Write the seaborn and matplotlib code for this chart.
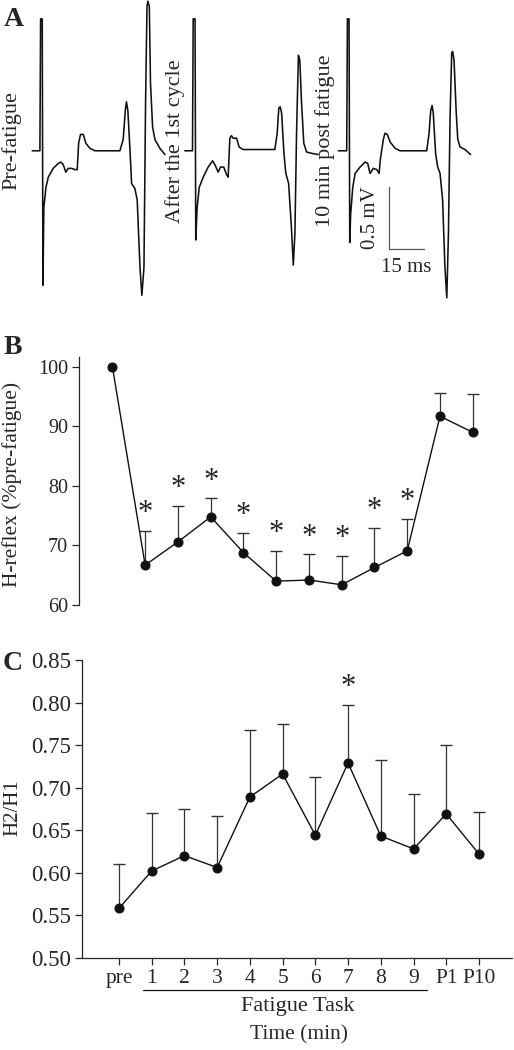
import numpy as np
import pandas as pd
import matplotlib
matplotlib.use("Agg")
import matplotlib.pyplot as plt
import seaborn as sns

# ── data ───────────────────────────────────────────────────────
# panel A: EMG sweeps, time (ms) from the stimulus, voltage (mV) from baseline
pre_t = [-3.3, 0, 0.3, 1.0, 1.3, 1.7, 2.6, 3.6, 5.7, 7.9, 9.0, 10.0, 11.1, 12.1,
         13.6, 15.0, 16.0, 16.6, 17.4, 18.6, 19.7, 21.4, 23.6, 34.3, 35.7, 36.6,
         37.1, 37.7, 38.6, 39.3, 40.7, 41.7, 42.9, 43.7, 44.6, 45.3, 45.9, 46.3,
         46.9, 47.4, 48.3, 49.3, 51.4, 53.6]
pre_v = [0, 0, 1.05, 1.05, -1.07, -0.45, -0.29, -0.21, -0.14, -0.10, -0.09, -0.11,
         -0.17, -0.14, -0.14, -0.15, -0.15, 0.06, 0.13, 0.13, 0.06, 0.02, 0, 0,
         0.09, 0.32, 0.39, 0.32, 0.01, -0.26, -0.30, -0.39, -0.93, -1.15, -0.93,
         0.40, 1.15, 1.19, 1.15, 0.54, 0.19, 0.09, 0.02, -0.03]

cyc_t = [-3.3, 0, 0.3, 1.1, 1.4, 2.0, 2.9, 4.6, 6.7, 8.6, 9.6, 11.0, 12.0, 13.4,
         14.6, 15.3, 16.0, 16.7, 17.4, 18.9, 20.0, 21.7, 35.3, 36.3, 37.0, 37.6,
         38.2, 39.2, 40.0, 41.2, 42.4, 43.2, 43.9, 44.6, 45.4, 46.0, 46.7, 47.7,
         48.9, 51.0, 53.9]
cyc_v = [0, 0, 1.05, 1.05, -0.71, -0.45, -0.29, -0.21, -0.13, -0.08, -0.11, -0.17,
         -0.13, -0.13, -0.19, -0.21, 0.10, 0.12, 0.10, 0.10, 0.03, 0.01, 0.01, 0.14,
         0.34, 0.35, 0.30, -0.02, -0.18, -0.26, -0.61, -0.91, -0.66, 0.14, 0.76,
         0.72, 0.40, 0.06, -0.01, -0.02, -0.03]

post_t = [-3.6, 0, 0.3, 1.0, 1.3, 1.7, 2.6, 3.6, 5.7, 7.9, 9.0, 10.0, 11.4, 12.9,
          13.9, 14.4, 15.7, 16.4, 17.4, 18.6, 20.7, 22.9, 34.3, 35.3, 36.0, 36.6,
          37.1, 38.1, 39.0, 40.0, 41.1, 42.1, 42.9, 43.6, 44.3, 45.0, 45.4, 46.0,
          46.9, 47.6, 48.6, 50.7, 53.1]
post_v = [0, 0, 1.05, 1.05, -0.73, -0.50, -0.29, -0.18, -0.13, -0.09, -0.10, -0.18,
          -0.14, -0.15, -0.18, -0.07, 0.09, 0.14, 0.13, 0.07, 0.02, 0, 0, 0.14,
          0.32, 0.36, 0.30, -0.02, -0.13, -0.18, -0.39, -0.93, -1.17, -0.66, 0.27,
          0.78, 0.79, 0.72, 0.32, 0.09, 0.03, 0.01, -0.03]

trace_names = ["Pre-fatigue", "After the 1st cycle", "10 min post fatigue"]

# panels B and C
time_labels = ["pre", "1", "2", "3", "4", "5", "6", "7", "8", "9", "P1", "P10"]
hreflex_mean = [100, 66.7, 70.6, 74.8, 68.8, 64.0, 64.2, 63.4, 66.3, 69.1, 91.7, 89.0]
hreflex_sd = [0, 5.8, 6.1, 3.1, 3.3, 5.1, 4.3, 4.9, 6.6, 5.4, 3.9, 6.4]
hreflex_sig = [0, 1, 1, 1, 1, 1, 1, 1, 1, 1, 0, 0]

ratio_mean = [0.558, 0.602, 0.620, 0.606, 0.689, 0.716, 0.644, 0.729, 0.643, 0.628, 0.669, 0.622]
ratio_sd = [0.052, 0.068, 0.055, 0.061, 0.079, 0.059, 0.069, 0.068, 0.090, 0.064, 0.081, 0.049]
ratio_sig = [0, 0, 0, 0, 0, 0, 0, 1, 0, 0, 0, 0]

# ── style ──────────────────────────────────────────────────────
sns.set_style("ticks")
plt.rcParams["font.family"] = ["Liberation Serif", "DejaVu Serif"]
plt.rcParams["font.size"] = 14
INK = "#111111"

fig = plt.figure(figsize=(5.14, 10.5), dpi=100)

# ── A: raw traces ──────────────────────────────────────────────
axA = fig.add_axes([0, 0.714, 1, 0.286])
offsets = [0, 65.4, 131.5]
for t, v, off in zip([pre_t, cyc_t, post_t], [pre_v, cyc_v, post_v], offsets):
    sns.lineplot(x=np.array(t) + off, y=v, ax=axA, color=INK, lw=1.15,
                 estimator=None, sort=False)
axA.set_xlim(-17.1, 203.2)
axA.set_ylim(-1.19, 1.20)
axA.axis("off")

for name, xt in zip(trace_names, [-12.1, 57.9, 122.2]):
    axA.text(xt, 0.08, name, rotation=90, ha="center", va="center", fontsize=16)

# scale bar 15 ms x 0.5 mV
sb_x, sb_y = 149.6, -0.785
axA.plot([sb_x, sb_x, sb_x + 15], [sb_y + 0.5, sb_y, sb_y], color="#555555", lw=0.9)
axA.text(sb_x - 8.1, sb_y + 0.25, "0.5 mV", rotation=90, ha="center", va="center", fontsize=15)
axA.text(sb_x + 7.6, sb_y - 0.14, "15 ms", ha="center", va="center", fontsize=15)

fig.text(14 / 514, 1 - 19 / 1050, "A", fontsize=20, fontweight="bold", ha="center", va="center")

pos = np.arange(len(time_labels))


def draw_series(ax, mean, sd):
    mean = np.asarray(mean, float)
    sd = np.asarray(sd, float)
    has = sd > 0
    # upper error bars only: stem + cap
    ax.vlines(pos[has], mean[has], mean[has] + sd[has], color="#333333", lw=0.9, zorder=2)
    ax.plot(pos[has], mean[has] + sd[has], ls="none", marker="_", ms=9,
            mew=1.0, color="#333333", zorder=2, clip_on=False)
    sns.lineplot(x=pos, y=mean, ax=ax, color=INK, lw=1.0, marker="o",
                 markersize=6.5, markeredgecolor=INK, markerfacecolor=INK,
                 estimator=None, sort=False, zorder=3, clip_on=False)


# ── B: H-reflex amplitude ──────────────────────────────────────
axB = fig.add_axes([79 / 514, 0.4238, 426.5 / 514, 0.2365])
draw_series(axB, hreflex_mean, hreflex_sd)
for i, s in enumerate(hreflex_sig):
    if s:
        axB.annotate("*", (pos[i], hreflex_mean[i] + hreflex_sd[i]), xytext=(0, 2),
                     textcoords="offset points", ha="center", va="bottom", fontsize=22)
axB.set_xlim(-1.02, 12)
axB.set_ylim(60, 101.7)
axB.set_yticks([60, 70, 80, 90, 100])
axB.set_xticks([])
axB.set_ylabel("H-reflex (%pre-fatigue)", fontsize=15.5, va="center")
axB.yaxis.set_label_coords(-0.158, 0.487)
sns.despine(ax=axB, bottom=True)
axB.tick_params(axis="y", length=5, width=0.9, labelsize=14.5, pad=3)
axB.spines["left"].set_linewidth(0.9)
fig.text(12.5 / 514, 1 - 348 / 1050, "B", fontsize=20, fontweight="bold", ha="center", va="center")

# ── C: paired-pulse ratio ──────────────────────────────────────
axC = fig.add_axes([82 / 514, 0.0879, 429.7 / 514, 0.2835])
draw_series(axC, ratio_mean, ratio_sd)
for i, s in enumerate(ratio_sig):
    if s:
        axC.annotate("*", (pos[i], ratio_mean[i] + ratio_sd[i]), xytext=(0, 2),
                     textcoords="offset points", ha="center", va="bottom", fontsize=22)
axC.set_xlim(-1.13, 12)
axC.set_ylim(0.5, 0.85)
yt = np.arange(0.50, 0.851, 0.05)
axC.set_yticks(yt)
axC.set_yticklabels([f"{v:.2f}" for v in yt])
axC.set_xticks(pos)
axC.set_xticklabels(time_labels)
axC.set_ylabel("H2/H1", fontsize=15, va="center")
axC.yaxis.set_label_coords(-0.16, 0.505)
sns.despine(ax=axC)
axC.tick_params(axis="y", length=5, width=0.9, labelsize=16.5, pad=3)
axC.tick_params(axis="x", length=5, width=0.9, labelsize=15.5, pad=3)
for sp in ["left", "bottom"]:
    axC.spines[sp].set_linewidth(0.9)

# fatigue task bracket under the tick labels
tr = axC.get_xaxis_transform()
axC.plot([0.73, 9.41], [-0.1085, -0.1085], transform=tr, color=INK, lw=0.9, clip_on=False)
axC.text(5.47, -0.165, "Fatigue Task", transform=tr, ha="center", va="center", fontsize=16)
axC.text(5.5, -0.26, "Time (min)", transform=tr, ha="center", va="center", fontsize=15.5)
fig.text(12.5 / 514, 1 - 664 / 1050, "C", fontsize=20, fontweight="bold", ha="center", va="center")

fig.savefig("out.png", dpi=100)
